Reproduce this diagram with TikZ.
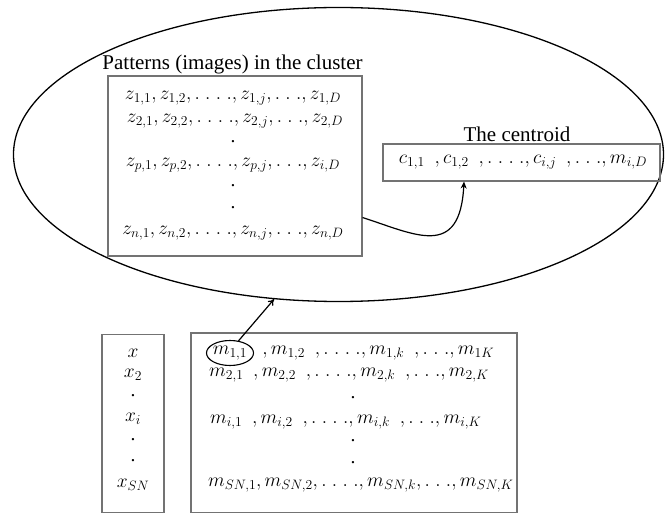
\RequirePackage{fix-cm}
\documentclass[tikz,border=0pt]{standalone}
\usepackage{fontspec}
\setmainfont{Liberation Serif}
\usetikzlibrary{arrows.meta,shapes.geometric}
\newcommand{\fdots}{.\mkern5mu.\mkern5mu.\mkern5mu.}
\newcommand{\tdots}{.\mkern5mu.\mkern5mu.}
\newcommand{\gp}{\mkern9mu}
\begin{document}
\begin{tikzpicture}[x=1pt,y=-1pt,
  box/.style={draw=black!55, line width=1.1pt, inner sep=0pt},
  ttl/.style={inner sep=0pt, font=\fontsize{21}{23}\selectfont},
  ztxt/.style={inner sep=0pt, font=\fontsize{19.4}{22}\selectfont},
  mtxt/.style={inner sep=0pt, anchor=west, font=\fontsize{19.5}{22}\selectfont},
  ctxt/.style={inner sep=0pt, font=\fontsize{19.5}{22}\selectfont},
  arr/.style={line width=1.2pt, -{Stealth[length=7pt,width=6pt]}}]
\useasboundingbox (0,0) rectangle (665,513);
% cluster ellipse
\node[draw, ellipse, line width=1.3pt, minimum width=650, minimum height=294, inner sep=0pt] (cluster) at (338.5,154.5) {};
% patterns box
\node[box, minimum width=254, minimum height=180] (pat) at (235,166) {};
\node[ttl] (pattitle) at (232.5,64) {Patterns (images) in the cluster};
\node[ztxt] (z1) at (233,98) {$z_{1,1},z_{1,2},\fdots,z_{1,j},\tdots,z_{1,D}$};
\node[ztxt] (z2) at (235,121) {$z_{2,1},z_{2,2},\fdots,z_{2,j},\tdots,z_{2,D}$};
\node[ztxt] (zd1) at (233,142) {.};
\node[ztxt] (zp) at (233,165) {$z_{p,1},z_{p,2},\fdots,z_{p,j},\tdots,z_{i,D}$};
\node[ztxt] (zd2) at (233,186) {.};
\node[ztxt] (zd3) at (233,208) {.};
\node[ztxt] (zn) at (233,233) {$z_{n,1},z_{n,2},\fdots,z_{n,j},\tdots,z_{n,D}$};
% centroid box
\node[box, minimum width=277, minimum height=37] (cent) at (521.5,162.5) {};
\node[ttl, anchor=base] (centtitle) at (517,142) {The centroid};
\node[ctxt] (ctext) at (523,162) {$c_{1,1}\gp,c_{1,2}\gp,\fdots,c_{i,j}\gp,\tdots,m_{i,D}$};
% x column box
\node[box, minimum width=62, minimum height=178] (xbox) at (133,423.5) {};
\node[ctxt] (x1) at (133,353) {$x$};
\node[ctxt] (x2) at (133,375) {$x_{2}$};
\node[ctxt] (xd1) at (133,396) {.};
\node[ctxt] (xi) at (133,419) {$x_{i}$};
\node[ctxt] (xd2) at (133,440) {.};
\node[ctxt] (xd3) at (133,461) {.};
\node[ctxt] (xsn) at (133,485) {$x_{SN}$};
% m matrix box
\node[box, minimum width=326, minimum height=180] (mbox) at (354,423) {};
\node[draw, ellipse, line width=1.1pt, ctxt, inner xsep=-5pt, inner ysep=-3pt, minimum width=47, minimum height=25] (m11) at (230,353) {$m_{1,1}$};
\node[mtxt] (m1) at ([xshift=8pt]m11.east) {$,m_{1,2}\gp,\fdots,m_{1,k}\gp,\tdots,m_{1K}$};
\node[mtxt] (m2) at (209,375) {$m_{2,1}\gp,m_{2,2}\gp,\fdots,m_{2,k}\gp,\tdots,m_{2,K}$};
\node[ctxt] (md1) at (353,398) {.};
\node[mtxt] (mi) at (210,422) {$m_{i,1}\gp,m_{i,2}\gp,\fdots,m_{i,k}\gp,\tdots,m_{i,K}$};
\node[ctxt] (md2) at (353,441) {.};
\node[ctxt] (md3) at (353,463) {.};
\node[mtxt] (msn) at (208,485) {$m_{SN,1},m_{SN,2},\fdots,m_{SN,k},\tdots,m_{SN,K}$};
% connectors
\draw[arr] (pat.-22.3) .. controls +(53,17) and +(-4,78) .. ([xshift=-57.5pt]cent.south);
\draw[line width=1.2pt, -{To[length=6pt,width=7pt]}] (m11.55) -- (cluster.246);
\end{tikzpicture}
\end{document}
